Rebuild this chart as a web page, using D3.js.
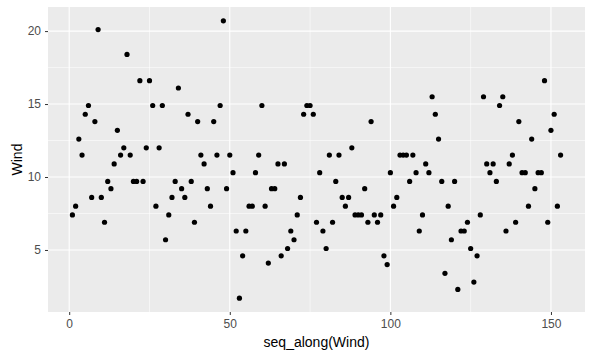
<!DOCTYPE html>
<html><head><meta charset="utf-8">
<script src="https://cdn.jsdelivr.net/npm/d3@7"></script>
<style>body{margin:0;background:#fff}text{font-family:"Liberation Sans",Arial,sans-serif}</style>
</head><body><svg id="c" width="593" height="357"></svg>
<script>
const wind = [7.4,8.0,12.6,11.5,14.3,14.9,8.6,13.8,20.1,8.6,6.9,9.7,9.2,10.9,13.2,11.5,12.0,18.4,11.5,9.7,9.7,16.6,9.7,12.0,16.6,14.9,8.0,12.0,14.9,5.7,7.4,
8.6,9.7,16.1,9.2,8.6,14.3,9.7,6.9,13.8,11.5,10.9,9.2,8.0,13.8,11.5,14.9,20.7,9.2,11.5,10.3,6.3,1.7,4.6,6.3,8.0,8.0,10.3,11.5,14.9,8.0,
4.1,9.2,9.2,10.9,4.6,10.9,5.1,6.3,5.7,7.4,8.6,14.3,14.9,14.9,14.3,6.9,10.3,6.3,5.1,11.5,6.9,9.7,11.5,8.6,8.0,8.6,12.0,7.4,7.4,7.4,9.2,
6.9,13.8,7.4,6.9,7.4,4.6,4.0,10.3,8.0,8.6,11.5,11.5,11.5,9.7,11.5,10.3,6.3,7.4,10.9,10.3,15.5,14.3,12.6,9.7,3.4,8.0,5.7,9.7,2.3,6.3,6.3,
6.9,5.1,2.8,4.6,7.4,15.5,10.9,10.3,10.9,9.7,14.9,15.5,6.3,10.9,11.5,6.9,13.8,10.3,10.3,8.0,12.6,9.2,10.3,10.3,16.6,6.9,13.2,14.3,8.0,11.5];
const index = wind.map((d,i)=>i+1);
const xTicks = [0,50,100,150];
const yTicks = [5,10,15,20];
const xMinor = [25,75,125];
const yMinor = [7.5,12.5,17.5];

const svg = d3.select("#c");
const L=48,R=585,T=7,B=312;
const xr=[d3.min(index),d3.max(index)], yr=[d3.min(wind),d3.max(wind)];
const xe=(xr[1]-xr[0])*0.05, ye=(yr[1]-yr[0])*0.05;
const x=d3.scaleLinear().domain([xr[0]-xe,xr[1]+xe]).range([L,R]);
const y=d3.scaleLinear().domain([yr[0]-ye,yr[1]+ye]).range([B,T]);

svg.append("rect").attr("x",L).attr("y",T).attr("width",R-L).attr("height",B-T).attr("fill","#ebebeb");
const g=svg.append("g");
g.selectAll(".xm").data(xMinor).join("line").attr("x1",d=>x(d)).attr("x2",d=>x(d)).attr("y1",T).attr("y2",B).attr("stroke","#fff").attr("stroke-width",0.55);
g.selectAll(".ym").data(yMinor).join("line").attr("y1",d=>y(d)).attr("y2",d=>y(d)).attr("x1",L).attr("x2",R).attr("stroke","#fff").attr("stroke-width",0.55);
g.selectAll(".xM").data(xTicks).join("line").attr("x1",d=>x(d)).attr("x2",d=>x(d)).attr("y1",T).attr("y2",B).attr("stroke","#fff").attr("stroke-width",1.1);
g.selectAll(".yM").data(yTicks).join("line").attr("y1",d=>y(d)).attr("y2",d=>y(d)).attr("x1",L).attr("x2",R).attr("stroke","#fff").attr("stroke-width",1.1);

const xa=svg.append("g").attr("transform",`translate(0,${B})`).call(d3.axisBottom(x).tickValues(xTicks).tickSize(3).tickPadding(4));
const ya=svg.append("g").attr("transform",`translate(${L},0)`).call(d3.axisLeft(y).tickValues(yTicks).tickSize(3).tickPadding(4));
[xa,ya].forEach(a=>{a.select(".domain").remove();a.selectAll("line").attr("stroke","#333");a.selectAll("text").attr("fill","#4d4d4d").style("font-size","12px");});

svg.append("g").selectAll("circle").data(wind).join("circle")
 .attr("cx",(d,i)=>x(index[i])).attr("cy",d=>y(d)).attr("r",2.6).attr("fill","#000");

svg.append("text").attr("x",(L+R)/2).attr("y",347).attr("text-anchor","middle").style("font-size","14px").attr("fill","#000").text("seq_along(Wind)");
svg.append("text").attr("transform",`translate(22,${(T+B)/2}) rotate(-90)`).attr("text-anchor","middle").style("font-size","14px").attr("fill","#000").text("Wind");
</script></body></html>
